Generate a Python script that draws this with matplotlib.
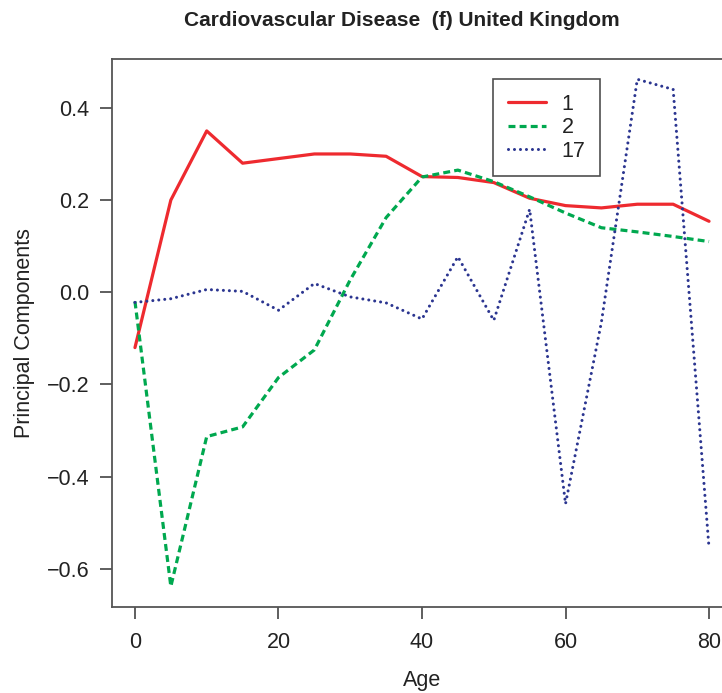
import matplotlib
matplotlib.use("Agg")
import matplotlib.pyplot as plt
import numpy as np

plt.rcParams['font.family'] = ['Liberation Sans', 'DejaVu Sans']
plt.rcParams['lines.scale_dashes'] = False

ages = [0, 5, 10, 15, 20, 25, 30, 35, 40, 45, 50, 55, 60, 65, 70, 75, 80]
pc1 = [-0.12, 0.20, 0.35, 0.28, 0.29, 0.30, 0.30, 0.295, 0.251, 0.249, 0.238,
       0.204, 0.188, 0.183, 0.191, 0.191, 0.154]
pc2 = [-0.02, -0.638, -0.313, -0.292, -0.185, -0.125, 0.027, 0.162, 0.25, 0.265,
       0.24, 0.207, 0.172, 0.14, 0.131, 0.121, 0.11]
pc17 = [-0.022, -0.014, 0.006, 0.002, -0.039, 0.019, -0.01, -0.023, -0.058, 0.077,
        -0.061, 0.18, -0.459, -0.065, 0.462, 0.44, -0.555]
labels = ["1", "2", "17"]
title = "Cardiovascular Disease  (f) United Kingdom"

W, H = 722, 693
fig = plt.figure(figsize=(W / 100, H / 100), dpi=100)
ax = fig.add_axes([112 / W, 1 - 606.7 / H, (732 - 112) / W, (606.7 - 59) / H])

ax.plot(ages, pc1, color='#EE2A2F', lw=2.3, solid_capstyle='round', label=labels[0])
ax.plot(ages, pc2, color='#00A84F', lw=2.3, linestyle=(0, (5, 3)), label=labels[1])
ax.plot(ages, pc17, color='#2B3590', lw=2.2, linestyle=(0, (0.01, 4.3)),
        dash_capstyle='round', label=labels[2])

allv = np.concatenate([pc1, pc2, pc17])
lo, hi = allv.min(), allv.max()
pad = 0.04 * (hi - lo)
ax.set_ylim(lo - pad, hi + pad)
ax.set_xlim(-3.2, 83.2)

FS = 15.5
ax.set_xticks([0, 20, 40, 60, 80])
ax.set_yticks([-0.6, -0.4, -0.2, 0.0, 0.2, 0.4])
ax.set_yticklabels(["\u22120.6", "\u22120.4", "\u22120.2", "0.0", "0.2", "0.4"])
ax.tick_params(axis='both', labelsize=FS, length=8.5, width=1.1, color='#333333',
               labelcolor='#222222')
ax.tick_params(axis='x', pad=10)
ax.tick_params(axis='y', pad=8)
for s in ax.spines.values():
    s.set_color('#555555')
    s.set_linewidth(1.3)

ax.set_xlabel("Age", fontsize=FS, color='#222222', labelpad=12)
ax.set_ylabel("Principal Components", fontsize=FS, color='#222222', labelpad=8)

fig.text(402 / W, 1 - 20 / H, title, ha='center', va='center', fontsize=15,
         fontweight='bold', color='#222222')

leg = ax.legend(loc='upper left', bbox_to_anchor=(493 / W, 1 - 79 / H),
                bbox_transform=fig.transFigure, fontsize=FS, frameon=True,
                fancybox=False, edgecolor='#222222', handlelength=1.8,
                handletextpad=0.7, borderpad=0.68, labelspacing=0.12,
                borderaxespad=0)
leg.get_frame().set_linewidth(1.2)
for t in leg.get_texts():
    t.set_color('#222222')

fig.savefig("out.png", dpi=100)
